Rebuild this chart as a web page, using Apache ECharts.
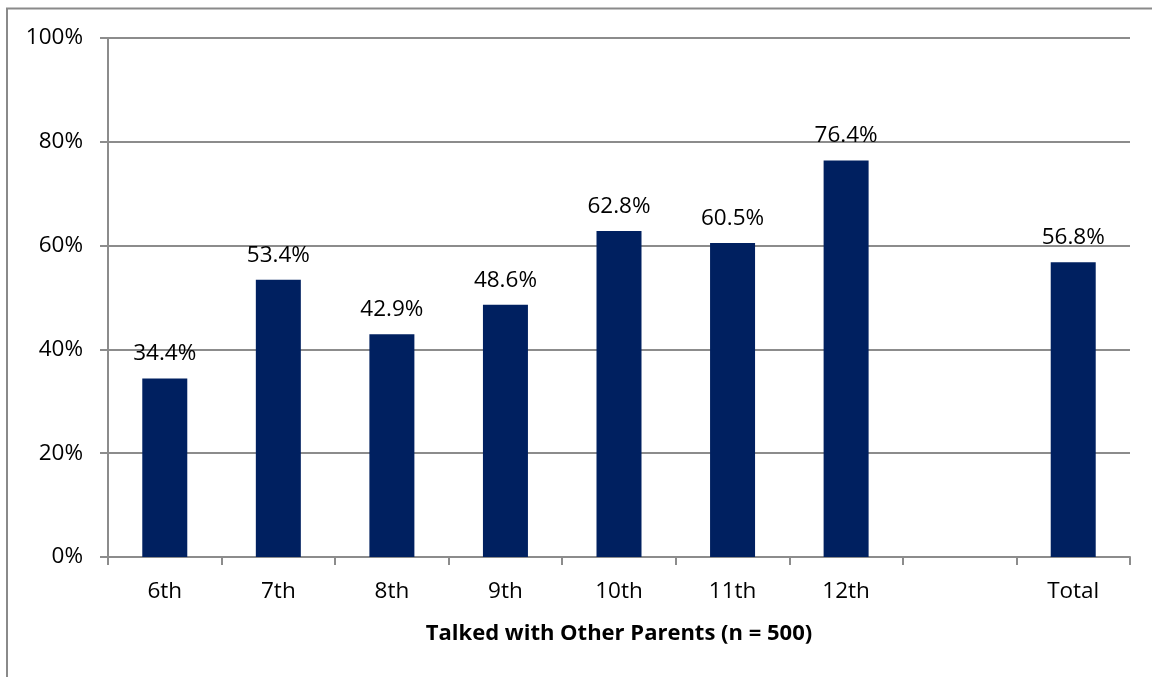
<!DOCTYPE html>
<html>
<head>
<meta charset="utf-8">
<style>
  html, body { margin: 0; padding: 0; background: #fff; }
  #chart { width: 1152px; height: 677px; }
</style>
<script src="https://cdn.jsdelivr.net/npm/echarts@6/dist/echarts.min.js"></script>
</head>
<body>
<div id="chart"></div>
<script>
// Share of parents who talked with other parents, by grade
const categories = ['6th', '7th', '8th', '9th', '10th', '11th', '12th', '', 'Total'];
const values = [34.4, 53.4, 42.9, 48.6, 62.8, 60.5, 76.4, null, 56.8];
const yTicks = { min: 0, max: 100, interval: 20 };
const axisTitle = 'Talked with Other Parents (n = 500)';

const FONT = '"Open Sans", "Noto Sans", sans-serif';
const GRAY = '#8c8c8c';

const chart = echarts.init(document.getElementById('chart'), null, { renderer: 'canvas' });

chart.setOption({
  backgroundColor: '#ffffff',
  animation: false,
  graphic: [{
    type: 'rect',
    shape: { x: 7, y: 8.5, width: 1300, height: 800 },
    style: { fill: 'none', stroke: '#8a8a8a', lineWidth: 2 },
    silent: true
  }],
  grid: { left: 108, right: 22, top: 38, bottom: 120, containLabel: false },
  xAxis: {
    type: 'category',
    data: categories,
    axisLine: { show: true, lineStyle: { color: GRAY, width: 2 } },
    axisTick: { show: true, length: 8, alignWithLabel: false, lineStyle: { color: GRAY, width: 2 } },
    axisLabel: { color: '#000', fontFamily: FONT, fontSize: 22.5, margin: 23 },
    name: axisTitle,
    nameLocation: 'middle',
    nameGap: 66,
    nameTextStyle: { color: '#000', fontFamily: FONT, fontSize: 22, fontWeight: 'bold' }
  },
  yAxis: {
    type: 'value',
    min: yTicks.min,
    max: yTicks.max,
    interval: yTicks.interval,
    axisLine: { show: true, lineStyle: { color: GRAY, width: 2 } },
    axisTick: { show: true, length: 8, lineStyle: { color: GRAY, width: 2 } },
    axisLabel: { color: '#000', fontFamily: FONT, fontSize: 22.5, margin: 25, formatter: v => v + '%' },
    splitLine: { show: true, lineStyle: { color: GRAY, width: 2 } }
  },
  series: [{
    type: 'bar',
    data: values,
    barWidth: 45,
    itemStyle: { color: '#002060' },
    label: {
      show: true,
      position: 'top',
      distance: 13,
      color: '#000',
      fontFamily: FONT,
      fontSize: 22.5,
      formatter: p => p.value.toFixed(1) + '%'
    }
  }]
});
</script>
</body>
</html>
